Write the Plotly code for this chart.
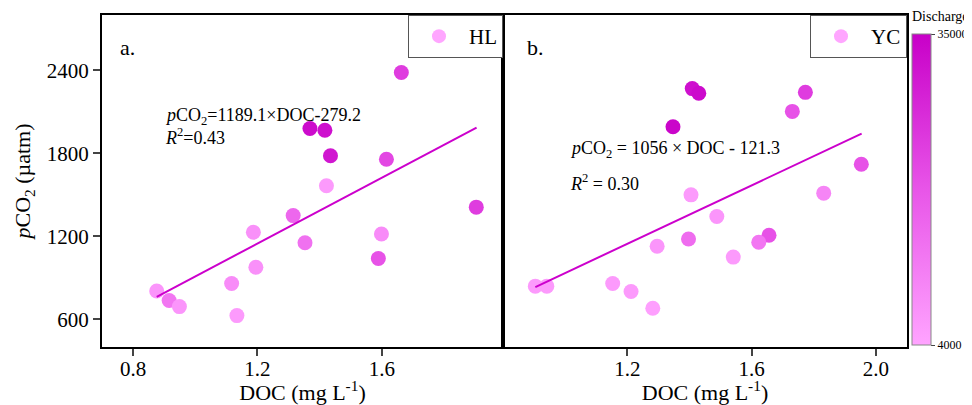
import plotly.graph_objects as go
from plotly.subplots import make_subplots

# panel a: HL
hl_doc = [1.663, 1.369, 1.417, 1.435, 1.615, 1.422, 1.904, 1.315, 1.187,
          1.599, 1.353, 1.589, 1.195, 1.117, 0.876, 0.916, 0.949, 1.134]
hl_pco2 = [2384, 1979, 1967, 1783, 1757, 1566, 1411, 1350, 1229,
           1217, 1154, 1040, 977, 859, 805, 736, 692, 627]
hl_q = [24000, 33000, 32000, 31000, 22000, 6000, 24000, 16000, 8000,
        9000, 14000, 20000, 8000, 9000, 7000, 13000, 7000, 6000]

# panel b: YC
yc_doc = [1.409, 1.430, 1.773, 1.731, 1.347, 1.953, 1.405, 1.832, 1.488, 1.397,
          1.296, 1.656, 1.623, 1.541, 0.904, 0.941, 1.153, 1.212, 1.282]
yc_pco2 = [2268, 2234, 2241, 2103, 1992, 1721, 1500, 1512, 1343, 1181,
           1128, 1208, 1157, 1050, 840, 840, 859, 801, 680]
yc_q = [32000, 33000, 24000, 20000, 34000, 20000, 6000, 10000, 7000, 15000,
        7000, 20000, 13000, 6000, 6000, 6000, 6000, 6000, 5000]

# regression fits (slope, intercept, x span)
fit_a = (1189.1, -279.2, [0.876, 1.905])
fit_b = (1056.0, -121.3, [0.904, 1.954])

FONT = "Liberation Serif"
# page body adds an 8px offset, so the figure is drawn 8px smaller
OFF = 8
W, H = 972 - OFF, 405 - OFF
# plot area edges in window pixels
L, R, T, B = 102, 907, 15, 347


def px(x):
    return (x - L) / (R - L)


def py(y):
    return (B - y) / (B - T)


fig = make_subplots(rows=1, cols=2, horizontal_spacing=0)

for col, (xs, ys, qs, fit, name, leg) in enumerate(
    [(hl_doc, hl_pco2, hl_q, fit_a, "HL", "legend"),
     (yc_doc, yc_pco2, yc_q, fit_b, "YC", "legend2")], start=1):
    fig.add_trace(go.Scatter(
        x=xs, y=ys, mode="markers", showlegend=False,
        marker=dict(size=15, color=qs, coloraxis="coloraxis", line=dict(width=0)),
    ), row=1, col=col)
    slope, icpt, span = fit
    fig.add_trace(go.Scatter(
        x=span, y=[slope * v + icpt for v in span], mode="lines",
        line=dict(color="#cc00cc", width=2), showlegend=False,
    ), row=1, col=col)
    # legend entry
    fig.add_trace(go.Scatter(
        x=[None], y=[None], mode="markers", name=name, legend=leg,
        marker=dict(size=14, color="#ffa6ff"),
    ), row=1, col=col)

axis_common = dict(
    showline=True, linecolor="black", linewidth=2, mirror=True,
    showgrid=False, zeroline=False,
    tickfont=dict(family=FONT, size=21, color="black"),
    title_font=dict(family=FONT, size=22, color="black"),
)

fig.update_xaxes(**axis_common)
fig.update_yaxes(**axis_common)

fig.update_xaxes(domain=[0, px(503)], range=[0.7, 1.99], tickvals=[0.8, 1.2, 1.6],
                 ticktext=["0.8", "1.2", "1.6"], ticks="outside", ticklen=7, tickwidth=2,
                 ticklabelstandoff=-5,
                 title_text="DOC (mg L<sup>-1</sup>)", title_standoff=2, row=1, col=1)
fig.update_xaxes(domain=[px(503), 1], range=[0.8, 2.1], tickvals=[1.2, 1.6, 2.0],
                 ticktext=["1.2", "1.6", "2.0"], ticks="outside", ticklen=7, tickwidth=2,
                 ticklabelstandoff=-5,
                 title_text="DOC (mg L<sup>-1</sup>)", title_standoff=2, row=1, col=2)
fig.update_yaxes(range=[400, 2800], tickvals=[600, 1200, 1800, 2400], ticks="outside",
                 ticklen=7, tickwidth=2,
                 title_text="<i>p</i>CO<sub>2</sub> (µatm)", title_standoff=10, row=1, col=1)
fig.update_yaxes(range=[400, 2800], showticklabels=False, ticks="", row=1, col=2)

ann_font = dict(family=FONT, size=18, color="black")
label_font = dict(family=FONT, size=22, color="black")
annotations = [
    dict(x=px(127), y=py(33), text="a.", font=label_font),
    dict(x=px(535), y=py(33), text="b.", font=label_font),
    dict(x=px(163), y=py(103), text="<i>p</i>CO<sub>2</sub>=1189.1×DOC-279.2",
         font=ann_font, xanchor="left"),
    dict(x=px(163), y=py(136), text="<i>R</i><sup>2</sup>=0.43", font=ann_font, xanchor="left"),
    dict(x=px(568), y=py(150), text="<i>p</i>CO<sub>2</sub> = 1056 × DOC - 121.3",
         font=ann_font, xanchor="left"),
    dict(x=px(568), y=py(182), text="<i>R</i><sup>2</sup> = 0.30", font=ann_font, xanchor="left"),
    dict(x=px(910), y=py(16), text="Discharge", xanchor="left", yanchor="middle",
         font=dict(family=FONT, size=14, color="black")),
]
for a in annotations:
    a.update(xref="paper", yref="paper", showarrow=False)
    a.setdefault("xanchor", "center")

legend_style = dict(
    bordercolor="#555555", borderwidth=1, bgcolor="white",
    font=dict(family=FONT, size=21, color="black"),
    yanchor="top", y=1, xanchor="right", itemwidth=50,
)

fig.update_layout(
    width=W, height=H,
    margin=dict(l=L - OFF, r=W - (R - OFF), t=T - OFF, b=H - (B - OFF), autoexpand=False),
    plot_bgcolor="white", paper_bgcolor="white",
    font=dict(family=FONT, color="black"),
    annotations=annotations,
    legend=dict(x=px(503), **legend_style),
    legend2=dict(x=1, **legend_style),
    coloraxis=dict(
        cmin=4000, cmax=35000,
        colorscale=[[0, "#ffa4ff"], [0.5, "#e855e8"], [1, "#c800c8"]],
        colorbar=dict(
            x=px(912), xanchor="left", xpad=0, ypad=0,
            y=py(345), yanchor="bottom", len=(345 - 34) / (B - T), thickness=19,
            outlinewidth=1, outlinecolor="#888888",
            tickvals=[4000, 35000], ticktext=["4000", "35000"],
            ticks="outside", ticklen=4, tickcolor="#444444",
            tickfont=dict(family=FONT, size=12, color="black"),
        ),
    ),
)

fig.write_html("out.html")
